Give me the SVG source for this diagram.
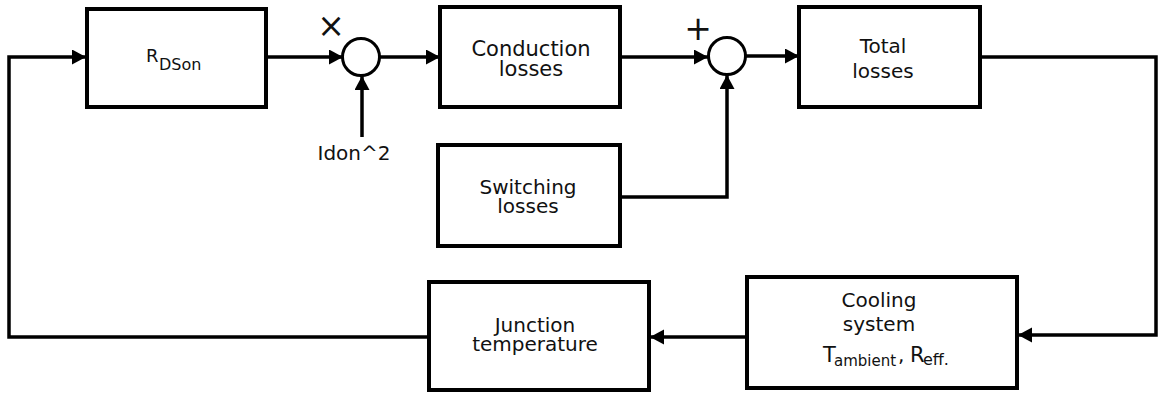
<svg xmlns="http://www.w3.org/2000/svg" width="1159" height="394" viewBox="0 0 1159 394">
<style>
.box{fill:#fff;stroke:#000;stroke-width:4}
.sum{fill:#fff;stroke:#000;stroke-width:3}
.ln{fill:none;stroke:#000;stroke-width:3.5}
text{font-family:"DejaVu Sans","Liberation Sans",sans-serif;fill:#111}
.c{text-anchor:middle}
.t21{font-size:21px}
.t20{font-size:20px}
</style>
<defs>
<marker id="ah" markerUnits="userSpaceOnUse" markerWidth="15" markerHeight="16" refX="14" refY="7.5" orient="auto">
<path d="M0,0 L14,7.5 L0,15 z" fill="#000"/>
</marker>
</defs>
<rect width="1159" height="394" fill="#fff"/>
<g id="connectors">
<polyline class="ln" points="429,337 9,337 9,57 86,57" marker-end="url(#ah)"/>
<line class="ln" x1="266" y1="57" x2="343" y2="57" marker-end="url(#ah)"/>
<line class="ln" x1="362" y1="137" x2="362" y2="76" marker-end="url(#ah)"/>
<line class="ln" x1="380" y1="57" x2="440" y2="57" marker-end="url(#ah)"/>
<line class="ln" x1="620" y1="57" x2="708" y2="57" marker-end="url(#ah)"/>
<polyline class="ln" points="620,197 727,197 727,75" marker-end="url(#ah)"/>
<line class="ln" x1="746" y1="56" x2="799" y2="56" marker-end="url(#ah)"/>
<polyline class="ln" points="980,57 1156,57 1156,335 1018,335" marker-end="url(#ah)"/>
<line class="ln" x1="747" y1="337" x2="650" y2="337" marker-end="url(#ah)"/>
</g>
<g id="rdson">
<rect class="box" x="87" y="9" width="179" height="98"/>
<text x="146" y="62" style="font-size:18px">R</text>
<text x="159" y="70" style="font-size:16px">DSon</text>
</g>
<g id="mult">
<circle class="sum" cx="361" cy="57" r="18.5"/>
<text x="331" y="37" class="c" style="font-size:33px">×</text>
<text x="354" y="160" class="c t20">Idon^2</text>
</g>
<g id="conduction">
<rect class="box" x="440" y="7" width="180" height="100"/>
<text x="531" y="56" class="c t21">Conduction</text>
<text x="531" y="76" class="c t21">losses</text>
</g>
<g id="sum">
<circle class="sum" cx="727" cy="56" r="18.5"/>
<text x="698" y="40" class="c" style="font-size:33px">+</text>
</g>
<g id="total">
<rect class="box" x="799" y="7" width="181" height="100"/>
<text x="883" y="53" class="c t20">Total</text>
<text x="883" y="78" class="c t20">losses</text>
</g>
<g id="switching">
<rect class="box" x="438" y="145" width="182" height="101"/>
<text x="528" y="194" class="c t20">Switching</text>
<text x="528" y="213" class="c t20">losses</text>
</g>
<g id="cooling">
<rect class="box" x="747" y="277" width="270" height="111"/>
<text x="879" y="307" class="c t20">Cooling</text>
<text x="879" y="331" class="c t20">system</text>
<text x="823" y="362" class="t21">T</text>
<text x="834" y="366" style="font-size:15px">ambient</text>
<text x="898" y="362" class="t20">,</text>
<text x="910" y="362" class="t21">R</text>
<text x="923" y="365" style="font-size:16px">eff.</text>
</g>
<g id="junction">
<rect class="box" x="429" y="282" width="220" height="108"/>
<text x="535" y="332" class="c t20">Junction</text>
<text x="535" y="351" class="c t20">temperature</text>
</g>
</svg>
